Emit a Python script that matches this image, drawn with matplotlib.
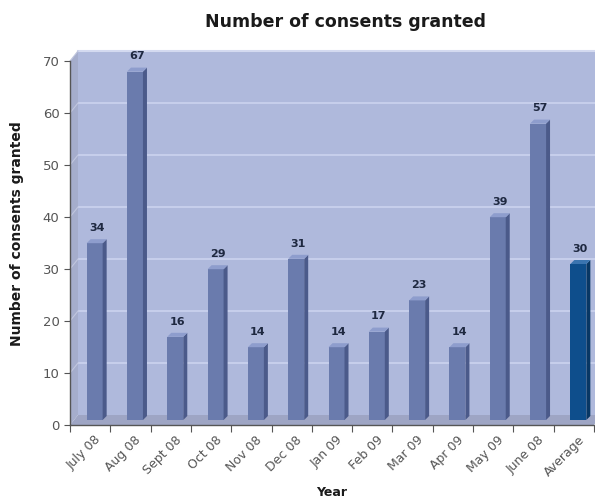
import numpy as np
import matplotlib
matplotlib.use("Agg")
import matplotlib.pyplot as plt
from matplotlib.patches import Polygon

# Data
months = ["July 08", "Aug 08", "Sept 08", "Oct 08", "Nov 08", "Dec 08", "Jan 09",
          "Feb 09", "Mar 09", "Apr 09", "May 09", "June 08", "Average"]
consents = [34, 67, 16, 29, 14, 31, 14, 17, 23, 14, 39, 57, 30]
y_ticks = [0, 10, 20, 30, 40, 50, 60, 70]

W, H = 595, 500
fig = plt.figure(figsize=(W / 100, H / 100), dpi=100)
ax_l, ax_r, ax_t, ax_b = 70, 594, 61, 425
ax = fig.add_axes([ax_l / W, 1 - ax_b / H, (ax_r - ax_l) / W, (ax_b - ax_t) / H])
n = len(months)
ax.set_xlim(-0.5, n - 0.5)
ax.set_ylim(0, 70)
ax.set_facecolor("none")

# pixel -> data units
px = n / (ax_r - ax_l)
py = 70 / (ax_b - ax_t)
dx, dy = 8 * px, 10 * py  # depth of the 3d box
x0, x1 = -0.5, n - 0.5

# back wall, side wall, floor
ax.add_patch(Polygon([(x0 + dx, dy), (x1 + dx, dy), (x1 + dx, 70 + dy), (x0 + dx, 70 + dy)],
                     closed=True, fc="#afb9dc", ec="none", clip_on=False, zorder=0))
ax.plot([x0 + dx, x1 + dx], [70 + dy, 70 + dy], color="#d4daf0", lw=1.5, clip_on=False, zorder=0.4)
ax.add_patch(Polygon([(x0, 0), (x0 + dx, dy), (x0 + dx, 70 + dy), (x0, 70)],
                     closed=True, fc="#a5adcc", ec="none", clip_on=False, zorder=0.5))
ax.add_patch(Polygon([(x0, 0), (x1, 0), (x1 + dx, dy), (x0 + dx, dy)],
                     closed=True, fc="#9ea5c4", ec="none", clip_on=False, zorder=0.5))
for t in y_ticks[1:]:
    ax.plot([x0 + dx, x1 + dx], [t + dy, t + dy], color="#cbd3ef", lw=1.2,
            clip_on=False, zorder=0.3)
    ax.plot([x0, x0 + dx], [t, t + dy], color="#c0c6de", lw=0.8, clip_on=False, zorder=0.6)

# bars
bw = 16 * px
ox, oy = 4.5 * px, 5 * py
sx, sy = 4 * px, 4 * py
for i, v in enumerate(consents):
    if months[i] == "Average":
        cf, cs, ct = "#0e4e8c", "#083764", "#3a74b0"
    else:
        cf, cs, ct = "#6a7bad", "#4b5a8a", "#8e9dcd"
    l = i - bw / 2 + ox
    r = l + bw
    b = oy
    top = v + oy
    ax.add_patch(Polygon([(l, b), (r, b), (r, top), (l, top)], closed=True,
                         fc=cf, ec="none", clip_on=False, zorder=2))
    ax.add_patch(Polygon([(r, b), (r + sx, b + sy), (r + sx, top + sy), (r, top)], closed=True,
                         fc=cs, ec="none", clip_on=False, zorder=2))
    ax.add_patch(Polygon([(l, top), (r, top), (r + sx, top + sy), (l + sx, top + sy)], closed=True,
                         fc=ct, ec="none", clip_on=False, zorder=2))
    ax.text((l + r + sx) / 2, top + sy + 1.2, str(v), ha="center", va="bottom",
            fontsize=8, fontweight="bold", color="#1e2840",
            family=["Liberation Sans Narrow", "DejaVu Sans"], clip_on=False, zorder=3)

# axes styling
for s in ["top", "right"]:
    ax.spines[s].set_visible(False)
for s in ["left", "bottom"]:
    ax.spines[s].set_color("#555555")
    ax.spines[s].set_linewidth(1.0)
    ax.spines[s].set_zorder(4)

ax.set_yticks(y_ticks)
ax.tick_params(axis="y", colors="#555555", labelcolor="#555555", labelsize=9.5, length=4, width=0.8)
ax.set_xticks(np.arange(n + 1) - 0.5)
ax.set_xticklabels([])
ax.tick_params(axis="x", which="major", colors="#555555", length=5, width=0.8)
ax.set_xticks(np.arange(n) + 0.1, minor=True)
ax.set_xticklabels(months, minor=True, rotation=45, ha="right", rotation_mode="anchor",
                   fontsize=9, color="#555555")
ax.tick_params(axis="x", which="minor", length=0, pad=6)

fig.text(345 / W, 1 - 22 / H, "Number of consents granted", ha="center", va="center",
         fontsize=12.5, fontweight="bold", color="#1a1a1a")
fig.text(17 / W, 1 - 234 / H, "Number of consents granted", ha="center", va="center",
         rotation=90, fontsize=10, fontweight="bold", color="#1a1a1a")
fig.text(332 / W, 1 - 493 / H, "Year", ha="center", va="center",
         fontsize=9, fontweight="bold", color="#1a1a1a")

fig.savefig("out.png", dpi=100)
